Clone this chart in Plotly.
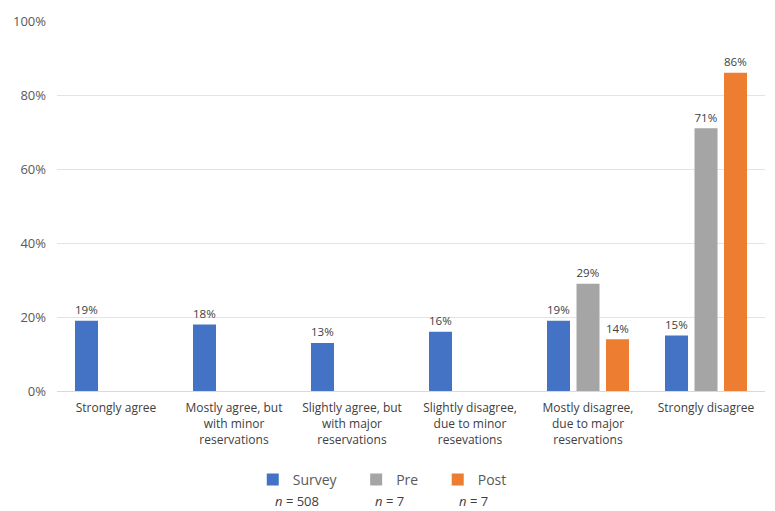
import plotly.graph_objects as go

categories = [
    "Strongly agree",
    "Mostly agree, but<br>with minor<br>reservations",
    "Slightly agree, but<br>with major<br>reservations",
    "Slightly disagree,<br>due to minor<br>resevations",
    "Mostly disagree,<br>due to major<br>reservations",
    "Strongly disagree",
]
survey = [19, 18, 13, 16, 19, 15]
pre = [None, None, None, None, 29, 71]
post = [None, None, None, None, 14, 86]
series_names = ["Survey", "Pre", "Post"]
series_n = ["<i>n</i> = 508", "<i>n</i> = 7", "<i>n</i> = 7"]
colors = ["#4472C4", "#A5A5A5", "#ED7D31"]
y_ticks = [0, 20, 40, 60, 80, 100]

FONT = "Open Sans"
NB = "\u00a0"
fig = go.Figure()
for name, vals, col in zip(series_names, [survey, pre, post], colors):
    fig.add_trace(go.Bar(
        x=categories, y=vals, name=name + NB * 4, marker_color=col,
        marker_line_width=0,
        texttemplate="%{y}%", textposition="outside",
        textfont=dict(family=FONT, size=13, color="#404040"),
        cliponaxis=False,
    ))

fig.update_layout(
    width=775, height=511,
    margin=dict(l=57, r=10, t=21, b=120),
    plot_bgcolor="white", paper_bgcolor="white",
    barmode="group", bargap=0.25, bargroupgap=0.22,
    font=dict(family=FONT, size=12, color="#595959"),
    showlegend=True,
    legend=dict(
        orientation="h", x=0.47, xanchor="center", y=-0.24, yanchor="middle",
        font=dict(family=FONT, size=14, color="#595959"),
        itemwidth=30,
    ),
    yaxis=dict(
        range=[0, 100], tickvals=y_ticks, ticktext=[f"{v}%" for v in y_ticks],
        showgrid=True, gridcolor="#E3E3E3", gridwidth=1,
        zeroline=False, showline=False, ticks="", ticklabelstandoff=10,
        tickfont=dict(family=FONT, size=13, color="#595959"),
        automargin=False,
    ),
    xaxis=dict(
        showline=True, linecolor="#D9D9D9", linewidth=1,
        ticks="", tickangle=0, ticklabelstandoff=6,
        tickfont=dict(family=FONT, size=12, color="#404040"),
        automargin=False,
    ),
)

n_x = [0.305, 0.447, 0.565]
for nx, txt in zip(n_x, series_n):
    fig.add_annotation(
        x=nx, y=-0.297, xref="paper", yref="paper", text=txt,
        showarrow=False, xanchor="left", yanchor="middle",
        font=dict(family=FONT, size=13, color="#404040"),
    )

fig.write_html("out.html", config={"displayModeBar": False},
               post_script="document.body.style.margin='0';")
